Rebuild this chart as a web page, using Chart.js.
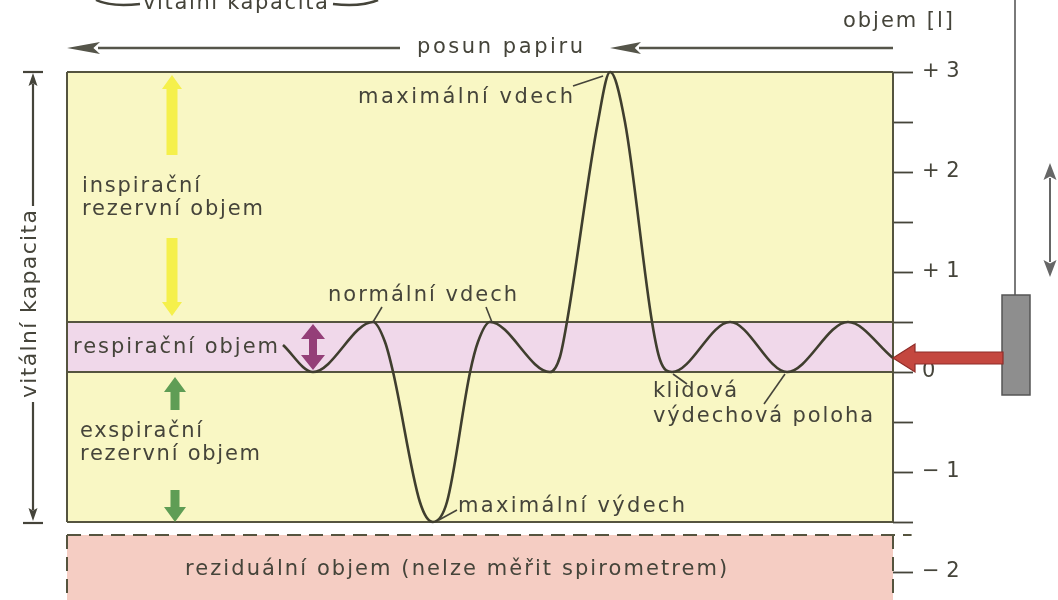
<!DOCTYPE html>
<html>
<head>
<meta charset="utf-8">
<script src="https://cdn.jsdelivr.net/npm/chart.js@4.4.0/dist/chart.umd.min.js"></script>
<style>
  html, body { margin: 0; padding: 0; background: #fff; }
  #wrap { width: 1058px; height: 600px; }
</style>
</head>
<body>
<div id="wrap"><canvas id="spiro" width="1058" height="600"></canvas></div>
<script>
// spirogram: time in seconds (paper moves right to left), volume in litres
const curveTime   = [10.46, 11.91, 14.82, 15.40, 15.79, 17.09, 17.72, 18.40, 19.52, 19.90, 20.48, 23.39,
                     23.87, 24.21, 25.71, 26.30, 27.02, 28.33, 28.72, 29.30, 32.11, 34.87, 37.82, 40.0];
const curveVolume = [0.27, 0, 0.5, 0.3, 0, -1.3, -1.5, -1.3, 0, 0.3, 0.5, 0,
                     0.15, 0.5, 2.5, 3.0, 2.5, 0.5, 0.12, 0, 0.5, 0, 0.5, 0.14];

// volume axis
const yTickValues = [-2, -1.5, -1, -0.5, 0, 0.5, 1, 1.5, 2, 2.5, 3];
const yTickLabels = ['\u2212 2', '', '\u2212 1', '', '0', '', '+ 1', '', '+ 2', '', '+ 3'];

// levels of the lung volumes
const maxInspiration = 3;
const tidalTop = 0.5;
const restLevel = 0;
const maxExpiration = -1.5;
const residualTop = -1.63;
const timeStart = 0;
const timeEnd = 40;

const ink = '#45443a';
const frameInk = '#55543f';
const textFont = '"DejaVu Sans", "Liberation Sans", sans-serif';

function flat(y, x0, x1) {
    return [{ x: x0, y: y }, { x: x1, y: y }];
}
function upright(x, y0, y1) {
    return [{ x: x, y: y0 }, { x: x, y: y1 }];
}

function blockArrow(ctx, x1, y1, x2, y2, shaftW, headW, headL, fill, stroke) {
    const ang = Math.atan2(y2 - y1, x2 - x1);
    const len = Math.hypot(x2 - x1, y2 - y1);
    ctx.save();
    ctx.translate(x1, y1);
    ctx.rotate(ang);
    ctx.beginPath();
    ctx.moveTo(0, -shaftW / 2);
    ctx.lineTo(len - headL, -shaftW / 2);
    ctx.lineTo(len - headL, -headW / 2);
    ctx.lineTo(len, 0);
    ctx.lineTo(len - headL, headW / 2);
    ctx.lineTo(len - headL, shaftW / 2);
    ctx.lineTo(0, shaftW / 2);
    ctx.closePath();
    ctx.fillStyle = fill;
    ctx.fill();
    if (stroke) {
        ctx.strokeStyle = stroke;
        ctx.lineWidth = 1.2;
        ctx.stroke();
    }
    ctx.restore();
}

function lineArrow(ctx, x1, y1, x2, y2, headL, headW, color, lw) {
    const ang = Math.atan2(y2 - y1, x2 - x1);
    const len = Math.hypot(x2 - x1, y2 - y1);
    ctx.save();
    ctx.translate(x1, y1);
    ctx.rotate(ang);
    ctx.strokeStyle = color;
    ctx.fillStyle = color;
    ctx.lineWidth = lw;
    ctx.beginPath();
    ctx.moveTo(0, 0);
    ctx.lineTo(len - headL + 2, 0);
    ctx.stroke();
    ctx.beginPath();
    ctx.moveTo(len, 0);
    ctx.lineTo(len - headL, -headW / 2);
    ctx.lineTo(len - headL * 0.8, 0);
    ctx.lineTo(len - headL, headW / 2);
    ctx.closePath();
    ctx.fill();
    ctx.restore();
}

function segment(ctx, pts, color, lw) {
    ctx.strokeStyle = color;
    ctx.lineWidth = lw;
    ctx.beginPath();
    ctx.moveTo(pts[0], pts[1]);
    for (let i = 2; i < pts.length; i += 2) ctx.lineTo(pts[i], pts[i + 1]);
    ctx.stroke();
}

// fit the text between left and right edges by letter spacing
function spacedText(ctx, text, left, right, y) {
    ctx.letterSpacing = '0px';
    const w = ctx.measureText(text).width;
    const gap = Math.max(0, (right - left - w) / (text.length - 1));
    ctx.letterSpacing = gap.toFixed(2) + 'px';
    ctx.fillText(text, left, y);
    ctx.letterSpacing = '0px';
}

const overlay = {
    id: 'overlay',
    afterDraw(chart) {
        const ctx = chart.ctx;
        const xs = chart.scales.x, ys = chart.scales.y;
        const X = v => xs.getPixelForValue(v);
        const Y = v => ys.getPixelForValue(v);
        const left = chart.chartArea.left, right = chart.chartArea.right;
        ctx.save();

        // texts
        ctx.fillStyle = ink;
        ctx.font = '21px ' + textFont;
        ctx.textBaseline = 'middle';
        ctx.textAlign = 'left';
        const notes = [
            ['maximální vdech', 358, 573, 98],
            ['inspirační', 82, 200, 187],
            ['rezervní objem', 82, 263, 210],
            ['normální vdech', 328, 517, 296],
            ['respirační objem', 73, 278, 348],
            ['exspirační', 80, 202, 432],
            ['rezervní objem', 80, 260, 455],
            ['maximální výdech', 458, 685, 507],
            ['klidová', 653, 737, 392],
            ['výdechová poloha', 653, 873, 417],
            ['reziduální objem (nelze měřit spirometrem)', 185, 727, 570],
            ['posun papiru', 417, 583, 48],
            ['objem [l]', 843, 953, 22]
        ];
        notes.forEach(n => spacedText(ctx, n[0], n[1], n[2], n[3]));

        // top label, mostly cut by the page edge
        ctx.textBaseline = 'alphabetic';
        spacedText(ctx, 'vitální kapacita', 143, 328, 9);
        ctx.lineWidth = 2.5;
        ctx.strokeStyle = ink;
        ctx.beginPath();
        ctx.moveTo(96, 0);
        ctx.quadraticCurveTo(110, 7, 140, 4);
        ctx.moveTo(333, 4);
        ctx.quadraticCurveTo(362, 7, 378, 0);
        ctx.stroke();

        // left vertical "vitální kapacita"
        ctx.save();
        ctx.translate(30, 304);
        ctx.rotate(-Math.PI / 2);
        ctx.textBaseline = 'middle';
        ctx.font = '22px ' + textFont;
        spacedText(ctx, 'vitální kapacita', -94, 94, 0);
        ctx.restore();
        const vTop = Y(maxInspiration), vBot = Y(maxExpiration);
        lineArrow(ctx, 33, 206, 33, vTop + 1, 13, 9, ink, 2.2);
        lineArrow(ctx, 33, 402, 33, vBot - 1, 13, 9, ink, 2.2);
        segment(ctx, [23, vTop, 43, vTop], ink, 2.2);
        segment(ctx, [23, vBot + 1, 43, vBot + 1], ink, 2.2);

        // paper movement arrows
        lineArrow(ctx, 400, 48, left, 48, 33, 12, '#55554a', 2.6);
        lineArrow(ctx, right, 48, 610, 48, 31, 12, '#55554a', 2.6);

        // leader lines to the curve
        const iMax = curveVolume.indexOf(Math.max(...curveVolume));
        const iMin = curveVolume.indexOf(Math.min(...curveVolume));
        segment(ctx, [573, 86, X(curveTime[iMax]) - 7, Y(maxInspiration) + 4], ink, 1.6);
        segment(ctx, [382, 307, X(curveTime[2]), Y(tidalTop)], ink, 1.6);
        segment(ctx, [486, 307, X(curveTime[10]) + 2, Y(tidalTop)], ink, 1.6);
        segment(ctx, [457, 510, X(curveTime[iMin]) + 6, Y(maxExpiration) - 2], ink, 1.6);
        segment(ctx, [673, Y(restLevel) + 2, 687, 384], ink, 1.6);
        segment(ctx, [785, Y(restLevel) + 2, 764, 404], ink, 1.6);

        // inspiratory reserve arrows
        const yellow = 'rgba(244, 238, 45, 0.8)';
        blockArrow(ctx, 172, 155, 172, vTop + 3, 11, 20, 14, yellow);
        blockArrow(ctx, 172, 238, 172, Y(tidalTop) - 6, 11, 20, 14, yellow);

        // expiratory reserve arrows
        const green = '#5f9d55';
        blockArrow(ctx, 175, 410, 175, Y(restLevel) + 5, 9, 22, 15, green);
        blockArrow(ctx, 175, 490, 175, vBot, 9, 22, 15, green);

        // tidal volume double arrow
        const mid = (Y(tidalTop) + Y(restLevel)) / 2;
        const grad = ctx.createLinearGradient(0, Y(tidalTop), 0, Y(restLevel));
        grad.addColorStop(0, '#943f78');
        grad.addColorStop(1, '#62509a');
        blockArrow(ctx, 313, mid, 313, Y(tidalTop) + 2, 8, 24, 15, grad);
        blockArrow(ctx, 313, mid, 313, Y(restLevel) - 2, 8, 24, 15, grad);

        // recording pen on its wire
        segment(ctx, [1015, 0, 1015, 296], '#7a7a7a', 2);
        ctx.fillStyle = '#8e8e8e';
        ctx.strokeStyle = '#555';
        ctx.lineWidth = 1.5;
        ctx.fillRect(1002, 295, 28, 100);
        ctx.strokeRect(1002, 295, 28, 100);
        lineArrow(ctx, 1050, 220, 1050, 163, 17, 13, '#666', 2);
        lineArrow(ctx, 1050, 220, 1050, 277, 17, 13, '#666', 2);
        blockArrow(ctx, 1003, 358, right, 358, 12, 28, 22, '#c4473f', '#8e2c28');

        ctx.restore();
    }
};

const frame = { borderColor: frameInk, borderWidth: 2, pointRadius: 0, fill: false, clip: false };
const dashed = { borderColor: frameInk, borderWidth: 2, borderDash: [14, 8], pointRadius: 0, fill: false, clip: false };

new Chart(document.getElementById('spiro'), {
    type: 'line',
    data: {
        datasets: [
            {
                label: 'objem',
                data: curveTime.map((t, i) => ({ x: t, y: curveVolume[i] })),
                borderColor: '#3f3e2e',
                borderWidth: 2.6,
                pointRadius: 0,
                cubicInterpolationMode: 'monotone',
                fill: false,
                clip: false,
                order: 0
            },
            Object.assign({ data: flat(maxInspiration, timeStart, timeEnd), order: 1 }, frame),
            Object.assign({ data: flat(tidalTop, timeStart, timeEnd), order: 1 }, frame),
            Object.assign({ data: flat(restLevel, timeStart, timeEnd), order: 1 }, frame),
            Object.assign({ data: flat(maxExpiration, timeStart, timeEnd), order: 1 }, frame),
            Object.assign({ data: upright(timeStart, maxExpiration, maxInspiration), order: 1 }, frame),
            Object.assign({ data: upright(timeEnd, maxExpiration, maxInspiration), order: 1 }, frame),
            Object.assign({ data: flat(residualTop, timeStart, timeEnd + 0.9), order: 1 }, dashed),
            Object.assign({ data: upright(timeStart, residualTop, -2.4), order: 1 }, dashed),
            Object.assign({ data: upright(timeEnd, residualTop, -2.4), order: 1 }, dashed),
            {
                label: 'respirační objem',
                data: flat(tidalTop, timeStart, timeEnd),
                backgroundColor: '#f0d8ea',
                borderWidth: 0,
                pointRadius: 0,
                fill: { value: restLevel },
                order: 5
            },
            {
                label: 'vitální kapacita',
                data: flat(maxInspiration, timeStart, timeEnd),
                backgroundColor: '#f9f7c4',
                borderWidth: 0,
                pointRadius: 0,
                fill: { value: maxExpiration },
                order: 6
            },
            {
                label: 'reziduální objem',
                data: flat(residualTop, timeStart, timeEnd),
                backgroundColor: '#f5cdc3',
                borderWidth: 0,
                pointRadius: 0,
                fill: 'start',
                order: 6
            }
        ]
    },
    options: {
        responsive: false,
        animation: false,
        layout: { padding: { left: 67, right: 0, top: 0, bottom: 0 } },
        plugins: {
            legend: { display: false },
            tooltip: { enabled: false }
        },
        scales: {
            x: { type: 'linear', min: timeStart, max: timeEnd, display: false },
            y: {
                type: 'linear',
                position: 'right',
                min: -2.28,
                max: 3.72,
                afterBuildTicks: s => { s.ticks = yTickValues.map(v => ({ value: v })); },
                afterFit: s => { s.width = 165; s.paddingTop = 0; s.paddingBottom = 0; },
                ticks: {
                    autoSkip: false,
                    padding: 9,
                    color: ink,
                    font: { family: textFont, size: 21 },
                    callback: (v) => {
                        const i = yTickValues.indexOf(v);
                        return i < 0 ? '' : yTickLabels[i];
                    }
                },
                grid: { drawOnChartArea: false, drawTicks: true, tickLength: 20, tickColor: ink, tickWidth: 1.8 },
                border: { display: false }
            }
        }
    },
    plugins: [overlay]
});
</script>
</body>
</html>
